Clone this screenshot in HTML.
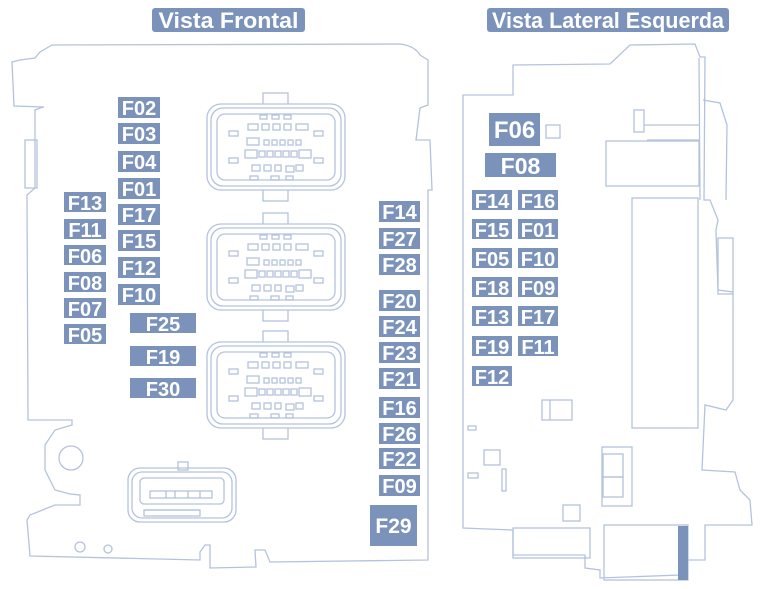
<!DOCTYPE html>
<html><head><meta charset="utf-8"><style>
html,body{margin:0;padding:0;background:#fff;width:766px;height:589px;overflow:hidden}
svg{display:block}
.l{fill:none;stroke:#b3c3dd;stroke-width:1.3}
.b{fill:#7b93bb}
.t{fill:#fff;font-family:"Liberation Sans",sans-serif;font-weight:bold;font-size:20px;text-anchor:middle}
</style></head><body>
<svg width="766" height="589" viewBox="0 0 766 589">
<defs>
<g id="con">
<rect x="263" y="93" width="25" height="12" class="l"/>
<rect x="263" y="189" width="25" height="12" class="l"/>
<rect x="207" y="104" width="138" height="86" rx="14" class="l" style="fill:#fff"/>
<rect x="211" y="108" width="130" height="78" rx="12" class="l"/>
<rect x="217" y="114" width="118" height="66" rx="8" class="l"/>
<g class="l" stroke-width="1">
<rect x="260" y="115" width="7" height="4"/><rect x="272" y="115" width="7" height="4"/><rect x="284" y="115" width="7" height="4"/>
<rect x="248" y="124" width="10" height="6"/><rect x="262" y="124" width="7" height="6"/><rect x="273" y="124" width="7" height="6"/><rect x="284" y="124" width="7" height="6"/><rect x="296" y="124" width="12" height="6"/>
<rect x="229" y="131" width="9" height="5"/><rect x="314" y="131" width="9" height="5"/>
<rect x="247" y="138" width="12" height="7"/><rect x="264" y="140" width="5" height="5"/><rect x="272" y="140" width="5" height="5"/><rect x="280" y="140" width="5" height="5"/><rect x="288" y="140" width="5" height="5"/><rect x="296" y="140" width="5" height="5"/>
<rect x="245" y="150" width="12" height="8"/><rect x="259" y="151" width="6" height="6"/><rect x="267" y="151" width="6" height="6"/><rect x="275" y="151" width="6" height="6"/><rect x="283" y="151" width="6" height="6"/><rect x="291" y="151" width="6" height="6"/><rect x="299" y="150" width="12" height="8"/>
<rect x="229" y="158" width="9" height="5"/><rect x="314" y="158" width="9" height="5"/>
<rect x="252" y="165" width="8" height="6"/><rect x="264" y="165" width="7" height="6"/><rect x="275" y="165" width="6" height="6"/><rect x="286" y="166" width="8" height="6"/><rect x="296" y="165" width="7" height="6"/>
<rect x="250" y="176" width="8" height="4"/><rect x="271" y="176" width="8" height="4"/><rect x="286" y="176" width="7" height="4"/>
</g>
</g>
</defs>
<path class="l" d="M52,45 L400,44 Q415,46 420,55 L428,60 L428,105 L420,108 L416,140 L430,140 L432,190 L428,190 L428,560 L270,562 L265,550 L255,550 L256,567 L210,568 L210,545 L205,545 L200,552 L200,560 L30,556 L27,520 L30,515 L55,505 L80,505 L80,495 L70,494 L55,490 L45,470 L45,445 L55,430 L72,425 L72,420 L28,420 L27,195 L35,188 L35,110 L40,108 L44,107 L14,106 L12,62 L20,60 L35,58 L40,52 Z"/>
<rect x="25" y="140" width="12" height="48" class="l"/>
<circle cx="71" cy="458" r="12" class="l"/>
<circle cx="80" cy="547" r="5" class="l"/>
<circle cx="108" cy="549" r="4" class="l"/>
<use href="#con"/>
<use href="#con" y="120"/>
<use href="#con" y="238"/>
<rect x="178" y="462" width="10" height="8" class="l"/>
<rect x="128" y="468" width="108" height="54" rx="12" class="l"/>
<rect x="132" y="472" width="100" height="46" rx="10" class="l"/>
<rect x="140" y="478" width="84" height="26" rx="4" class="l"/>
<rect x="150" y="491" width="62" height="7" class="l"/>
<path class="l" d="M166,491v7M175,491v7M188,491v7M200,491v7M145,510h55"/>
<rect x="144" y="510" width="56" height="6" class="l"/>
<path class="l" d="M463,95 L513,95 L513,65 L610,64 L630,45 L695,44 L700,57 L705,57 L704,200 L710,200 L718,220 L716,230 L718,290 L733,292 L733,400 L726,410 L705,405 L702,470 L735,472 L740,490 L750,500 L752,525 L705,525 L705,560 L680,560 L680,575 L600,578 L600,570 L585,568 L585,555 L513,555 L513,530 L463,528 Z"/>
<path class="l" d="M699,58 L700,200 M703,100 L720,103 L727,125 L726,200"/>
<rect x="718" y="238" width="15" height="56" class="l"/>
<rect x="634" y="110" width="10" height="22" class="l"/>
<path class="l" d="M644,125 L699,125 M647,140 L699,140"/>
<rect x="606" y="141" width="93" height="45" class="l"/>
<rect x="632" y="198" width="66" height="230" class="l"/>
<rect x="542" y="400" width="30" height="20" class="l"/><path class="l" d="M550,400v20"/>
<rect x="484" y="450" width="16" height="15" class="l"/>
<rect x="502" y="469" width="4" height="22" class="l"/>
<rect x="468" y="426" width="8" height="4" class="l"/><rect x="468" y="473" width="10" height="5" class="l"/>
<rect x="602" y="447" width="30" height="59" class="l"/>
<rect x="603" y="454" width="20" height="23" class="l"/><rect x="603" y="477" width="20" height="20" class="l"/>
<rect x="563" y="505" width="17" height="16" class="l"/>
<rect x="513" y="528" width="77" height="30" fill="#eef2f8" class="l"/>
<rect x="604" y="525" width="84" height="55" class="l"/>
<rect x="678" y="526" width="10" height="54" class="b"/>
<rect x="152" y="8" width="153" height="24" rx="3" class="b"/>
<text x="228.5" y="28" class="t" style="font-size:22px" textLength="140" lengthAdjust="spacingAndGlyphs">Vista Frontal</text>
<rect x="487" y="8" width="242" height="24" rx="3" class="b"/>
<text x="608" y="28" class="t" style="font-size:22px" textLength="232" lengthAdjust="spacingAndGlyphs">Vista Lateral Esquerda</text>
<g>
<rect class="b" x="118" y="97" width="42" height="21"/><text class="t" x="139" y="115">F02</text>
<rect class="b" x="118" y="123" width="42" height="21"/><text class="t" x="139" y="141">F03</text>
<rect class="b" x="118" y="151" width="42" height="21"/><text class="t" x="139" y="169">F04</text>
<rect class="b" x="118" y="178" width="42" height="21"/><text class="t" x="139" y="196">F01</text>
<rect class="b" x="118" y="204" width="42" height="21"/><text class="t" x="139" y="222">F17</text>
<rect class="b" x="118" y="230" width="42" height="21"/><text class="t" x="139" y="248">F15</text>
<rect class="b" x="118" y="257" width="42" height="21"/><text class="t" x="139" y="275">F12</text>
<rect class="b" x="118" y="284" width="42" height="21"/><text class="t" x="139" y="302">F10</text>
<rect class="b" x="64" y="192" width="42" height="20"/><text class="t" x="85" y="210">F13</text>
<rect class="b" x="64" y="219" width="42" height="20"/><text class="t" x="85" y="237">F11</text>
<rect class="b" x="64" y="245" width="42" height="20"/><text class="t" x="85" y="263">F06</text>
<rect class="b" x="64" y="272" width="42" height="20"/><text class="t" x="85" y="290">F08</text>
<rect class="b" x="64" y="298" width="42" height="20"/><text class="t" x="85" y="316">F07</text>
<rect class="b" x="64" y="324" width="42" height="20"/><text class="t" x="85" y="342">F05</text>
<rect class="b" x="130" y="313" width="66" height="20"/><text class="t" x="163" y="331">F25</text>
<rect class="b" x="130" y="346" width="66" height="20"/><text class="t" x="163" y="364">F19</text>
<rect class="b" x="130" y="378" width="66" height="20"/><text class="t" x="163" y="396">F30</text>
<rect class="b" x="379" y="201" width="41" height="21"/><text class="t" x="399.5" y="219">F14</text>
<rect class="b" x="379" y="228" width="41" height="21"/><text class="t" x="399.5" y="246">F27</text>
<rect class="b" x="379" y="254" width="41" height="21"/><text class="t" x="399.5" y="272">F28</text>
<rect class="b" x="379" y="290" width="41" height="21"/><text class="t" x="399.5" y="308">F20</text>
<rect class="b" x="379" y="316" width="41" height="21"/><text class="t" x="399.5" y="334">F24</text>
<rect class="b" x="379" y="342" width="41" height="21"/><text class="t" x="399.5" y="360">F23</text>
<rect class="b" x="379" y="368" width="41" height="21"/><text class="t" x="399.5" y="386">F21</text>
<rect class="b" x="379" y="397" width="41" height="21"/><text class="t" x="399.5" y="415">F16</text>
<rect class="b" x="379" y="423" width="41" height="21"/><text class="t" x="399.5" y="441">F26</text>
<rect class="b" x="379" y="448" width="41" height="21"/><text class="t" x="399.5" y="466">F22</text>
<rect class="b" x="379" y="475" width="41" height="21"/><text class="t" x="399.5" y="493">F09</text>
<rect class="b" x="370" y="505" width="47" height="41"/><text class="t" x="393.5" y="533" style="font-size:21px">F29</text>
</g>
<rect class="b" x="489" y="113" width="51" height="33"/><text class="t" x="514.5" y="138" style="font-size:24px">F06</text>
<rect x="546" y="125" width="14" height="13" class="l"/>
<rect class="b" x="485" y="153" width="71" height="24"/><text class="t" x="520.5" y="174" style="font-size:23px">F08</text>
<g>
<rect class="b" x="472" y="190" width="40" height="20"/><text class="t" x="492" y="208">F14</text>
<rect class="b" x="518" y="190" width="40" height="20"/><text class="t" x="538" y="208">F16</text>
<rect class="b" x="472" y="219" width="40" height="20"/><text class="t" x="492" y="237">F15</text>
<rect class="b" x="518" y="219" width="40" height="20"/><text class="t" x="538" y="237">F01</text>
<rect class="b" x="472" y="248" width="40" height="20"/><text class="t" x="492" y="266">F05</text>
<rect class="b" x="518" y="248" width="40" height="20"/><text class="t" x="538" y="266">F10</text>
<rect class="b" x="472" y="277" width="40" height="20"/><text class="t" x="492" y="295">F18</text>
<rect class="b" x="518" y="277" width="40" height="20"/><text class="t" x="538" y="295">F09</text>
<rect class="b" x="472" y="306" width="40" height="20"/><text class="t" x="492" y="324">F13</text>
<rect class="b" x="518" y="306" width="40" height="20"/><text class="t" x="538" y="324">F17</text>
<rect class="b" x="472" y="336" width="40" height="20"/><text class="t" x="492" y="354">F19</text>
<rect class="b" x="518" y="336" width="40" height="20"/><text class="t" x="538" y="354">F11</text>
<rect class="b" x="472" y="366" width="40" height="20"/><text class="t" x="492" y="384">F12</text>
</g>
</svg>
</body></html>
